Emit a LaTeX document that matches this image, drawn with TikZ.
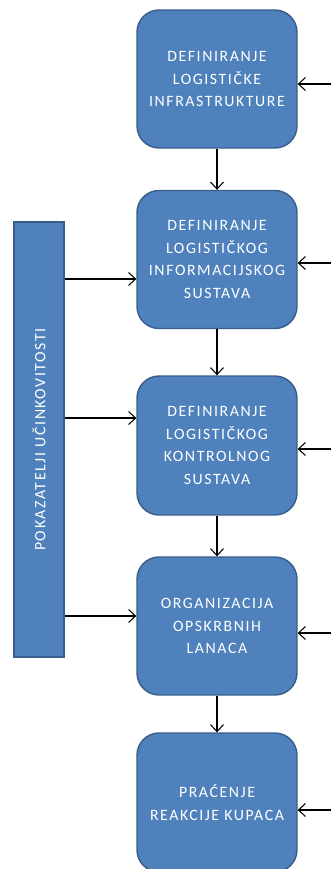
\documentclass[tikz,border=0pt]{standalone}
\usepackage{fontspec}
\setmainfont{Carlito}[LetterSpace=10]
\usepackage{xcolor}
\definecolor{boxblue}{HTML}{4F81BD}
\definecolor{boxedge}{HTML}{385D8A}
\usetikzlibrary{arrows.meta}

\tikzset{
  stage/.style={draw=boxedge, fill=boxblue, line width=0.8pt, rounded corners=0.44cm,
    minimum width=3.2cm, minimum height=2.76cm, align=center, text=white,
    font=\fontsize{9}{13}\selectfont},
  flow/.style={->, semithick, >={Straight Barb[length=1.4mm,width=2.6mm]}}
}

\begin{document}
\begin{tikzpicture}[x=0.02cm, y=-0.02cm]
  \useasboundingbox (0,0) rectangle (331,869);
  % Stages
  \node[stage] (b1) at (217,79) {DEFINIRANJE\\LOGISTIČKE\\INFRASTRUKTURE};
  \node[stage] (b2) at (217,259.5) {DEFINIRANJE\\LOGISTIČKOG\\INFORMACIJSKOG\\SUSTAVA};
  \node[stage, minimum height=2.78cm] (b3) at (217,445.5) {DEFINIRANJE\\LOGISTIČKOG\\KONTROLNOG\\SUSTAVA};
  \node[stage] (b4) at (217,626) {ORGANIZACIJA\\OPSKRBNIH\\LANACA};
  \node[stage, minimum height=2.78cm] (b5) at (217,802.5) {PRAĆENJE\\REAKCIJE KUPACA};
  % Indicator bar
  \node[draw=boxedge, fill=boxblue, line width=0.8pt, minimum width=1cm, minimum height=8.7cm] (bar) at (39,439.5) {};
  \node[rotate=90, text=white, font=\fontsize{9}{10}\selectfont] (barlabel) at (bar.center) {POKAZATELJI UČINKOVITOSTI};
  % Flow down
  \foreach \a/\b in {b1/b2, b2/b3, b3/b4, b4/b5}
    \draw[flow] (\a.south) -- (\b.north);
  % Indicators to stages
  \foreach \b/\y in {b2/279, b3/418, b4/616}
    \draw[flow] (bar.east |- 0,\y) -- (\b.west |- 0,\y);
  % Inputs from the right
  \foreach \b/\y [count=\i] in {b1/84, b2/263, b3/449, b4/633, b5/810} {
    \coordinate (r\i) at (331,\y);
    \draw[flow] (r\i) -- (\b.east |- r\i);
  }
\end{tikzpicture}
\end{document}
